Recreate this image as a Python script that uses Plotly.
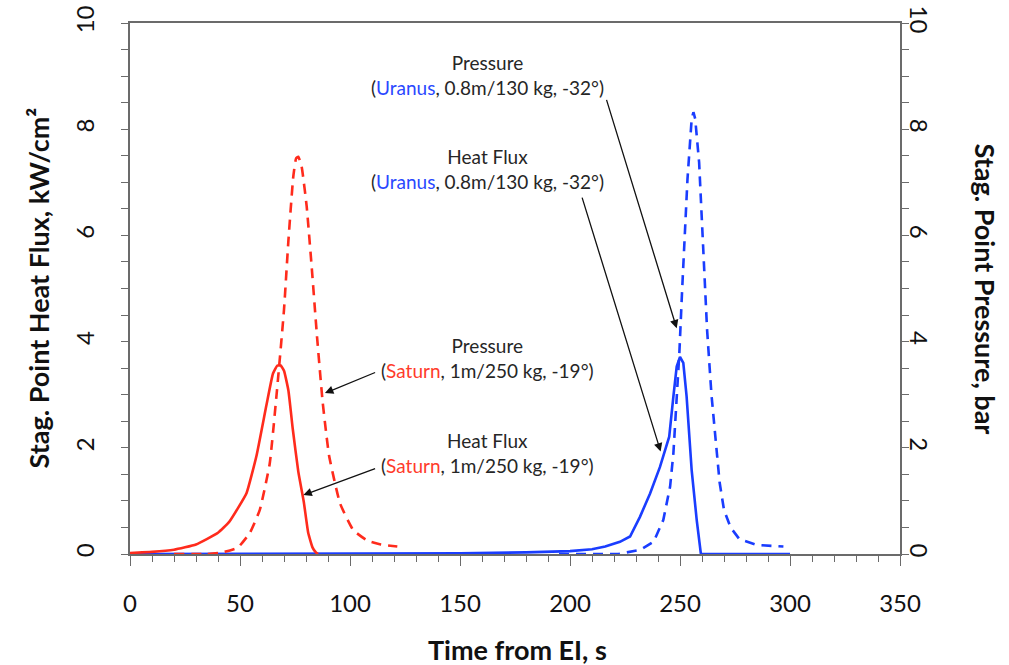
import plotly.graph_objects as go

# Stagnation-point heat flux (kW/cm^2) and pressure (bar) vs. time from entry interface (s)
sat_hf_t = [0, 10, 20, 30, 40, 45, 49, 53, 57.5, 62, 65, 67, 68.5, 70, 72, 74, 76.5, 79, 81, 83, 84.5, 85.5]
sat_hf = [0.02, 0.04, 0.08, 0.18, 0.4, 0.6, 0.86, 1.15, 1.85, 2.8, 3.4, 3.55, 3.55, 3.45, 3.08, 2.35, 1.55, 0.98, 0.4, 0.12, 0.03, 0.0]

sat_p_t = [20, 35, 42, 49, 54.5, 59, 63.5, 67.5, 70, 72, 74.2, 75.5, 76.5, 78, 80.3, 82.6, 85, 87.6, 90.5, 95.5, 101.5, 108, 114, 121.5]
sat_p = [0.0, 0.0, 0.03, 0.12, 0.4, 0.83, 1.7, 3.4, 4.6, 5.9, 7.1, 7.45, 7.48, 7.3, 6.55, 5.4, 4.1, 2.85, 1.85, 0.95, 0.45, 0.25, 0.18, 0.14]

ura_hf_t = [0, 100, 150, 180, 200, 210, 216, 222.7, 227.3, 231.8, 236.4, 240.9, 245.1, 247, 248.5, 250, 251.5, 253, 255.3, 257.6, 259.5, 300]
ura_hf = [0.0, 0.005, 0.012, 0.03, 0.055, 0.09, 0.14, 0.23, 0.33, 0.70, 1.14, 1.64, 2.21, 2.97, 3.53, 3.71, 3.6, 2.97, 1.58, 0.64, 0.0, 0.0]

ura_p_t = [195, 222, 232, 238, 242.4, 245.5, 247, 248.5, 249.7, 251, 253.4, 255.3, 256.1, 256.9, 258, 258.7, 260.5, 262.3, 264.3, 266.4, 268, 270, 273, 277, 285, 297]
ura_p = [0.0, 0.0, 0.08, 0.23, 0.64, 1.27, 1.9, 2.84, 3.78, 5.0, 7.06, 8.19, 8.32, 8.2, 7.62, 7.37, 5.8, 4.23, 3.0, 2.0, 1.35, 0.83, 0.5, 0.28, 0.17, 0.14]

# Callout text and the point each arrow touches: (label, mission, rest, tail_t, tail_v, head_t, head_v, text_t, text_v)
callouts = [
    ("Pressure", "Uranus", ", 0.8m/130 kg, -32°)", 216.4, 8.58, 248.5, 4.25, 162.7, 9.02),
    ("Heat Flux", "Uranus", ", 0.8m/130 kg, -32°)", 205.3, 6.74, 241.2, 1.93, 162.7, 7.25),
    ("Pressure", "Saturn", ", 1m/250 kg, -19°)", 112.1, 3.43, 88.6, 3.03, 162.7, 3.685),
    ("Heat Flux", "Saturn", ", 1m/250 kg, -19°)", 112.1, 1.62, 78.8, 1.11, 162.7, 1.896),
]

RED = "#ff2b1c"
BLUE = "#1a3dff"
TXT = "#262626"
AX = "#6b6b6b"
FONT = "Lato, 'Open Sans', sans-serif"
mission_color = {"Saturn": "#ff3b2b", "Uranus": "#2a48ff"}

fig = go.Figure()
fig.add_trace(go.Scatter(x=ura_hf_t, y=ura_hf, mode="lines", line=dict(color=BLUE, width=2.6), yaxis="y"))
fig.add_trace(go.Scatter(x=sat_hf_t, y=sat_hf, mode="lines", line=dict(color=RED, width=2.6, shape="spline", smoothing=0.4), yaxis="y"))
fig.add_trace(go.Scatter(x=sat_p_t, y=sat_p, mode="lines", line=dict(color=RED, width=2.6, dash="10px,7px", shape="spline", smoothing=0.4), yaxis="y2"))
fig.add_trace(go.Scatter(x=ura_p_t, y=ura_p, mode="lines", line=dict(color=BLUE, width=2.6, dash="10px,7px"), yaxis="y2"))

annotations = []
for label, mission, rest, tt, tv, ht, hv, xt, yv in callouts:
    annotations.append(dict(
        x=xt, y=yv, xref="x", yref="y", showarrow=False, xanchor="center", yanchor="middle",
        text=f"{label}<br>(<span style='color:{mission_color[mission]}'>{mission}</span>{rest}",
        font=dict(family=FONT, size=19, color=TXT), align="center",
    ))
    annotations.append(dict(
        x=ht, y=hv, ax=tt, ay=tv, xref="x", yref="y", axref="x", ayref="y",
        text="", showarrow=True, arrowhead=2, arrowsize=1.3, arrowwidth=1.3, arrowcolor="#111111",
    ))

# Axis titles
annotations.append(dict(x=0.5, y=0, xref="paper", yref="paper", xanchor="center", yanchor="middle",
                        yshift=-95, xshift=2, showarrow=False,
                        text="<b>Time from EI, s</b>", font=dict(family=FONT, size=27, color="#111111")))
annotations.append(dict(x=0, y=0.5, xref="paper", yref="paper", xanchor="center", yanchor="middle",
                        xshift=-92, showarrow=False, textangle=-90,
                        text="<b>Stag. Point Heat Flux, kW/cm²</b>", font=dict(family=FONT, size=27, color="#111111")))
annotations.append(dict(x=1, y=0.5, xref="paper", yref="paper", xanchor="center", yanchor="middle",
                        xshift=85, showarrow=False, textangle=90,
                        text="<b>Stag. Point Pressure, bar</b>", font=dict(family=FONT, size=27, color="#111111")))

tickfont = dict(family=FONT, size=24, color="#111111")
fig.update_layout(
    width=1009, height=665,
    margin=dict(l=130, r=109, t=23, b=111),
    paper_bgcolor="white", plot_bgcolor="white",
    showlegend=False,
    annotations=annotations,
    xaxis=dict(range=[0, 350], dtick=50, tick0=0, ticks="outside", ticklen=10, tickwidth=1.3, tickcolor=AX,
               minor=dict(dtick=10, ticks="outside", ticklen=6, tickcolor=AX, tickwidth=1.2),
               showline=True, linecolor=AX, linewidth=1.5, mirror=True, automargin=False,
               showgrid=False, zeroline=False, tickfont=tickfont, ticklabelstandoff=17),
    yaxis=dict(range=[0, 10], dtick=2, tick0=0, ticks="outside", ticklen=7, tickwidth=1.3, tickcolor=AX,
               minor=dict(dtick=0.5, ticks="outside", ticklen=7, tickcolor=AX, tickwidth=1.2),
               showline=True, linecolor=AX, linewidth=1.5, automargin=False, ticklabeloverflow="allow",
               showgrid=False, zeroline=False, tickfont=tickfont, tickangle=-90, ticklabelstandoff=18),
    yaxis2=dict(range=[0, 10], dtick=2, tick0=0, overlaying="y", side="right", ticks="outside", ticklen=7,
                tickwidth=1.3, tickcolor=AX,
                minor=dict(dtick=0.5, ticks="outside", ticklen=7, tickcolor=AX, tickwidth=1.2),
                showline=True, linecolor=AX, linewidth=1.5, automargin=False, ticklabeloverflow="allow",
                showgrid=False, zeroline=False, tickfont=tickfont, tickangle=90, ticklabelstandoff=-8),
)

fig.write_html("out.html")
